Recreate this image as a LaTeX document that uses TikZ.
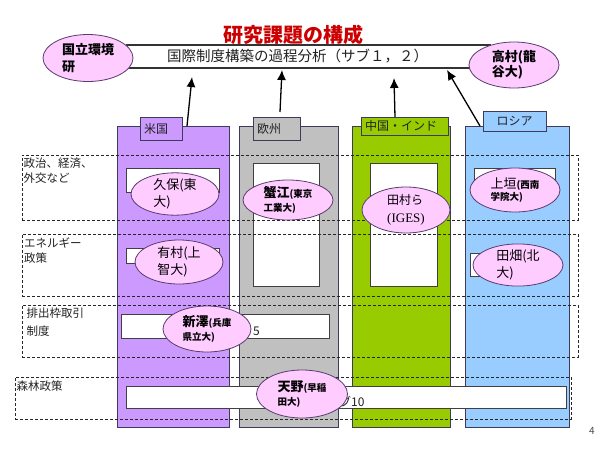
\documentclass[tikz,border=0pt]{standalone}
\usepackage{fontspec}
\setmainfont{Noto Sans CJK JP}
\newfontfamily\serifla{Liberation Serif}
\usetikzlibrary{shapes.geometric,arrows.meta}
\definecolor{cpurple}{HTML}{CC99FF}
\definecolor{cgray}{HTML}{C0C0C0}
\definecolor{cgreen}{HTML}{99CC00}
\definecolor{cblue}{HTML}{99CCFF}
\definecolor{cpink}{HTML}{FFCCFF}
\definecolor{cedge}{HTML}{3C3C5A}
\definecolor{eedge}{HTML}{5A3C6E}
\definecolor{ctitle}{HTML}{CC0000}
\definecolor{ctext}{HTML}{222222}
\newcommand\bigp{\fontsize{13}{16.5}\selectfont}
\newcommand\smp{\fontsize{9.5}{12}\selectfont}
\tikzset{
  colbox/.style={draw=cedge, line width=0.8pt, inner sep=0pt, rectangle},
  tabbox/.style={draw=cedge, line width=0.8pt, inner xsep=4pt, inner ysep=0pt, align=left, text=ctext, font=\fontsize{12}{14}\selectfont},
  whitebox/.style={draw=black!75, fill=white, line width=0.8pt, inner sep=0pt},
  rowbox/.style={draw=black!85, dash pattern=on 3pt off 2pt, line width=0.7pt, inner sep=0pt},
  rowlabel/.style={anchor=north west, inner sep=0pt, align=left, text=ctext, font=\fontsize{11.5}{15}\selectfont},
  person/.style={ellipse, draw=eedge, fill=cpink, line width=0.8pt, inner sep=0pt, align=left, text=black, font=\bigp},
  arrowline/.style={-{Latex[length=10pt,width=9pt]}, line width=1.3pt, black},
  hidtext/.style={inner sep=0pt, text=ctext, font=\fontsize{12}{14}\selectfont}
}
\begin{document}
\begin{tikzpicture}[x=1pt,y=-1pt]
\useasboundingbox[fill=white] (0,0) rectangle (600,450);

% columns
\node[colbox, fill=cpurple, minimum width=112pt, minimum height=301pt] (usa) at (173,276.5) {};
\node[colbox, fill=cgray,   minimum width=99pt,  minimum height=301pt] (eu)  at (288.5,276.5) {};
\node[colbox, fill=cgreen,  minimum width=98pt,  minimum height=301pt] (cn)  at (401,276.5) {};
\node[colbox, fill=cblue,   minimum width=104pt, minimum height=301pt] (ru)  at (517,276.5) {};

% tabs
\node[tabbox, fill=cpurple, text width=34pt, minimum height=23pt] (usatab) at (161,128.5) {米国};
\node[tabbox, fill=cgray,   text width=39pt, minimum height=23pt] (eutab)  at (276.5,128.5) {欧州};
\node[tabbox, fill=cgreen,  text width=79pt, minimum height=18pt] (cntab)  at (404.5,126) {中国・インド};
\node[tabbox, fill=cblue,   text width=55pt, minimum height=20pt, align=center] (rutab) at (514.5,121) {ロシア};

% white boxes
\node[whitebox, minimum width=93pt, minimum height=24pt] (wb1) at (172.5,180) {};
\node[whitebox, minimum width=93pt, minimum height=15pt] (wb2) at (172.5,255.5) {};
\node[whitebox, minimum width=66pt, minimum height=123pt] (wb3) at (286,224.5) {};
\node[whitebox, minimum width=67pt, minimum height=123pt] (wb4) at (403.5,224.5) {};
\node[whitebox, minimum width=81pt, minimum height=24pt] (wb5) at (514.5,180) {};
\node[whitebox, minimum width=85pt, minimum height=23pt] (wb6) at (512.5,264.5) {};
\node[whitebox, minimum width=208pt, minimum height=24pt] (bar3) at (225,326) {};
\node[whitebox, minimum width=440pt, minimum height=22pt] (bar4) at (346,397) {};

% hidden text parts
\node[hidtext, anchor=west] (t5) at (253,331) {5};
\node[hidtext, anchor=west] (t10) at (339,402) {ブ10};

% dashed rows
\node[rowbox, minimum width=556pt, minimum height=65pt] (r1) at (300,187.5) {};
\node[rowbox, minimum width=556pt, minimum height=62pt] (r2) at (300,265) {};
\node[rowbox, minimum width=556pt, minimum height=52pt] (r3) at (300,331) {};
\node[rowbox, minimum width=556pt, minimum height=42pt] (r4) at (293,398) {};

\node[rowlabel] (l1) at (23.5,157.3) {政治、経済、\\外交など};
\node[rowlabel] (l2) at (24,237.3) {エネルギー\\政策};
\node[rowlabel, font=\fontsize{11.5}{18}\selectfont] (l3) at (26.5,307.5) {排出枠取引\\制度};
\node[rowlabel] (l4) at (16.5,381) {森林政策};

% title
\node[inner sep=0pt, text=ctitle, font=\fontsize{20}{24}\selectfont\bfseries] (title) at (293,35) {研究課題の構成};

% top bar
\node[draw=black!80, line width=1.5pt, fill=white, minimum width=363pt, minimum height=23pt,
      inner xsep=40pt, inner ysep=0pt, text width=283pt, align=left, text=ctext,
      font=\fontsize{14.5}{16}\selectfont] (bar) at (308.5,56.5) {国際制度構築の過程分析（サブ１，２）};

% arrows
\coordinate (a1s) at (187,126);  \coordinate (a1e) at (192,77);
\coordinate (a2s) at (280,112);  \coordinate (a2e) at (282,70);
\coordinate (a3s) at (395,117);  \coordinate (a3e) at (394,78);
\coordinate (a4s) at (480,126);  \coordinate (a4e) at (447,70);
\draw[arrowline] (a1s) -- (a1e);
\draw[arrowline] (a2s) -- (a2e);
\draw[arrowline] (a3s) -- (a3e);
\draw[arrowline] (a4s) -- (a4e);

% people
\node[person, minimum width=90pt, minimum height=47pt] (p1) at (88,58) {\bfseries 国立環境\\\bfseries 研};
\node[person, minimum width=90pt, minimum height=46pt] (p2) at (514,65) {\bfseries 高村(龍\\[-2pt]\bfseries 谷大)};
\node[person, minimum width=88pt, minimum height=42pt] (p3) at (175,194) {久保(東\\大)};
\node[person, minimum width=90pt, minimum height=40pt] (p4) at (288,200) {\bfseries 蟹江{\smp(東京}\\[-3pt]{\smp\bfseries 工業大)}};
\node[person, minimum width=88pt, minimum height=44pt] (p5) at (179,262) {有村(上\\智大)};
\node[person, minimum width=88pt, minimum height=46pt, font=\fontsize{12}{18}\selectfont] (p6) at (406,210) {田村ら\\{\serifla\fontsize{13}{18}\selectfont (IGES)}};
\node[person, minimum width=90pt, minimum height=44pt] (p7) at (515,190) {上垣{\smp\bfseries(西南}\\[-5pt]{\smp\bfseries 学院大)}};
\node[person, minimum width=90pt, minimum height=42pt] (p8) at (518,265) {田畑(北\\大)};
\node[person, minimum width=88pt, minimum height=46pt] (p9) at (207,329) {\bfseries 新澤{\smp(兵庫}\\[-2pt]{\smp\bfseries 県立大)}};
\node[person, minimum width=91pt, minimum height=48pt] (p10) at (302,394) {\bfseries 天野{\smp(早稲}\\[-2pt]{\smp\bfseries 田大)}};

% page number
\node[inner sep=0pt, text=black!70, font=\fontsize{10}{12}\selectfont] (pg) at (592,431) {4};
\end{tikzpicture}
\end{document}
